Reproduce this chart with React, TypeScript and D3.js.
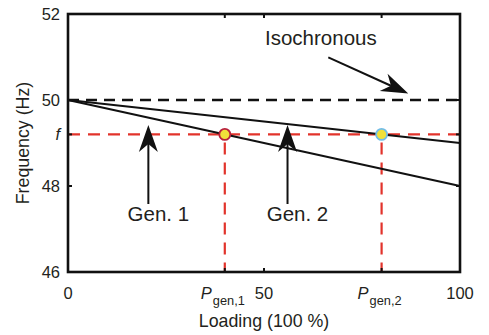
import React, { useRef, useEffect } from 'react';
import * as d3 from 'd3';

// chart data
const loading = [0, 100];
const isochronous = [50, 50];
const gen1 = [50, 48];
const gen2 = [50, 49];
const fValue = 49.2;
const pGen = [40, 80];
const xTicks = [0, 40, 50, 80, 100];
const xTickLabels = ['0', 'P|gen,1', '50', 'P|gen,2', '100'];
const yTicks = [46, 48, 49.2, 50, 52];
const yTickLabels = ['46', '48', 'f', '50', '52'];
const genNames = ['Gen. 1', 'Gen. 2'];
const genArrowX = [20.5, 56];
const markerStroke = ['#b8203c', '#72bde6'];

function App() {
  const svgRef = useRef<SVGSVGElement | null>(null);

  useEffect(() => {
    const width = 489;
    const height = 335;
    const m = { left: 68, right: 29, top: 14, bottom: 63 };
    const font = '"Liberation Sans", Arial, sans-serif';
    const ink = '#231f20';

    const svg = d3.select(svgRef.current)
      .attr('width', width)
      .attr('height', height)
      .style('font-family', font);
    svg.selectAll('*').remove();

    const x = d3.scaleLinear().domain([0, 100]).range([m.left, width - m.right]);
    const y = d3.scaleLinear().domain([46, 52]).range([height - m.bottom, m.top]);

    const line = d3.line<number>()
      .x((_, i) => x(loading[i]))
      .y(d => y(d));

    // red guide lines at f and P_gen
    svg.append('line')
      .attr('x1', x(0)).attr('x2', x(100))
      .attr('y1', y(fValue)).attr('y2', y(fValue))
      .attr('stroke', '#e2332b').attr('stroke-width', 2.2)
      .attr('stroke-dasharray', '12,8');
    svg.selectAll('.pgen')
      .data(pGen)
      .enter()
      .append('line')
      .attr('x1', d => x(d)).attr('x2', d => x(d))
      .attr('y1', y(fValue) + 8).attr('y2', y(46))
      .attr('stroke', '#e2332b').attr('stroke-width', 2.2)
      .attr('stroke-dasharray', '12,8');

    // isochronous dashed line
    svg.append('path')
      .attr('d', line(isochronous))
      .attr('fill', 'none')
      .attr('stroke', '#111')
      .attr('stroke-width', 2.6)
      .attr('stroke-dasharray', '11,7');

    // droop lines
    [gen1, gen2].forEach(g => {
      svg.append('path')
        .attr('d', line(g))
        .attr('fill', 'none')
        .attr('stroke', '#111')
        .attr('stroke-width', 2);
    });

    // operating points
    svg.selectAll('.pt')
      .data(pGen)
      .enter()
      .append('circle')
      .attr('cx', d => x(d))
      .attr('cy', y(fValue))
      .attr('r', 5.5)
      .attr('fill', '#f0e03a')
      .attr('stroke', (_, i) => markerStroke[i])
      .attr('stroke-width', 1.8);

    // box
    svg.append('rect')
      .attr('x', x(0)).attr('y', y(52))
      .attr('width', x(100) - x(0)).attr('height', y(46) - y(52))
      .attr('fill', 'none').attr('stroke', '#111').attr('stroke-width', 2.6);

    // inward ticks on all sides
    const tl = 4;
    xTicks.forEach(t => {
      svg.append('line').attr('x1', x(t)).attr('x2', x(t))
        .attr('y1', y(46)).attr('y2', y(46) - tl).attr('stroke', '#111').attr('stroke-width', 2);
      svg.append('line').attr('x1', x(t)).attr('x2', x(t))
        .attr('y1', y(52)).attr('y2', y(52) + tl).attr('stroke', '#111').attr('stroke-width', 2);
    });
    yTicks.forEach(t => {
      svg.append('line').attr('x1', x(0)).attr('x2', x(0) + tl)
        .attr('y1', y(t)).attr('y2', y(t)).attr('stroke', '#111').attr('stroke-width', 2);
      svg.append('line').attr('x1', x(100)).attr('x2', x(100) - tl)
        .attr('y1', y(t)).attr('y2', y(t)).attr('stroke', '#111').attr('stroke-width', 2);
    });

    // x tick labels
    xTicks.forEach((t, i) => {
      const lab = xTickLabels[i];
      if (lab.includes('|')) {
        const [main, sub] = lab.split('|');
        const txt = svg.append('text')
          .attr('x', x(t) - 24).attr('y', 299)
          .attr('fill', ink).attr('font-size', 16.5);
        txt.append('tspan').attr('font-style', 'italic').text(main);
        txt.append('tspan').attr('font-size', 12.8).attr('dx', 1).attr('dy', 6).text(sub);
      } else {
        svg.append('text')
          .attr('x', x(t)).attr('y', 299)
          .attr('text-anchor', 'middle')
          .attr('fill', ink).attr('font-size', 16.5)
          .text(lab);
      }
    });

    // y tick labels
    yTicks.forEach((t, i) => {
      svg.append('text')
        .attr('x', 60).attr('y', y(t) + 6)
        .attr('text-anchor', 'end')
        .attr('fill', ink).attr('font-size', 16.5)
        .attr('font-style', yTickLabels[i] === 'f' ? 'italic' : 'normal')
        .text(yTickLabels[i]);
    });

    // axis titles
    svg.append('text')
      .attr('x', (x(0) + x(100)) / 2).attr('y', 327)
      .attr('text-anchor', 'middle')
      .attr('fill', ink).attr('font-size', 17.8)
      .text('Loading (100 %)');
    svg.append('text')
      .attr('transform', `translate(29, ${(y(46) + y(52)) / 2}) rotate(-90)`)
      .attr('text-anchor', 'middle')
      .attr('fill', ink).attr('font-size', 17.8)
      .text('Frequency (Hz)');

    // arrows
    const arrow = (x1: number, y1: number, x2: number, y2: number) => {
      const dx = x2 - x1, dy = y2 - y1;
      const len = Math.hypot(dx, dy);
      const ux = dx / len, uy = dy / len;
      const px = -uy, py = ux;
      const L = 27, W = 9.5, n = 8;
      svg.append('line')
        .attr('x1', x1).attr('y1', y1)
        .attr('x2', x2 - ux * (L - n)).attr('y2', y2 - uy * (L - n))
        .attr('stroke', '#111').attr('stroke-width', 2);
      const pts = [
        [x2, y2],
        [x2 - ux * L + px * W, y2 - uy * L + py * W],
        [x2 - ux * (L - n), y2 - uy * (L - n)],
        [x2 - ux * L - px * W, y2 - uy * L - py * W],
      ];
      svg.append('path')
        .attr('d', 'M' + pts.map(p => p.join(',')).join('L') + 'Z')
        .attr('fill', '#111');
    };

    genArrowX.forEach((gx, i) => {
      arrow(x(gx), 204, x(gx), 125);
      svg.append('text')
        .attr('x', x(gx) + 10).attr('y', 221)
        .attr('text-anchor', 'middle')
        .attr('fill', ink).attr('font-size', 20.5)
        .text(genNames[i]);
    });

    arrow(x(66.4), y(50.99), x(86.8), y(50.15));
    svg.append('text')
      .attr('x', 265).attr('y', 45)
      .attr('fill', ink).attr('font-size', 20.5)
      .text('Isochronous');
  }, []);

  return (
    <svg ref={svgRef} style={{ position: 'absolute', left: 0, top: 0, background: '#fff' }}></svg>
  );
}

export default App;
